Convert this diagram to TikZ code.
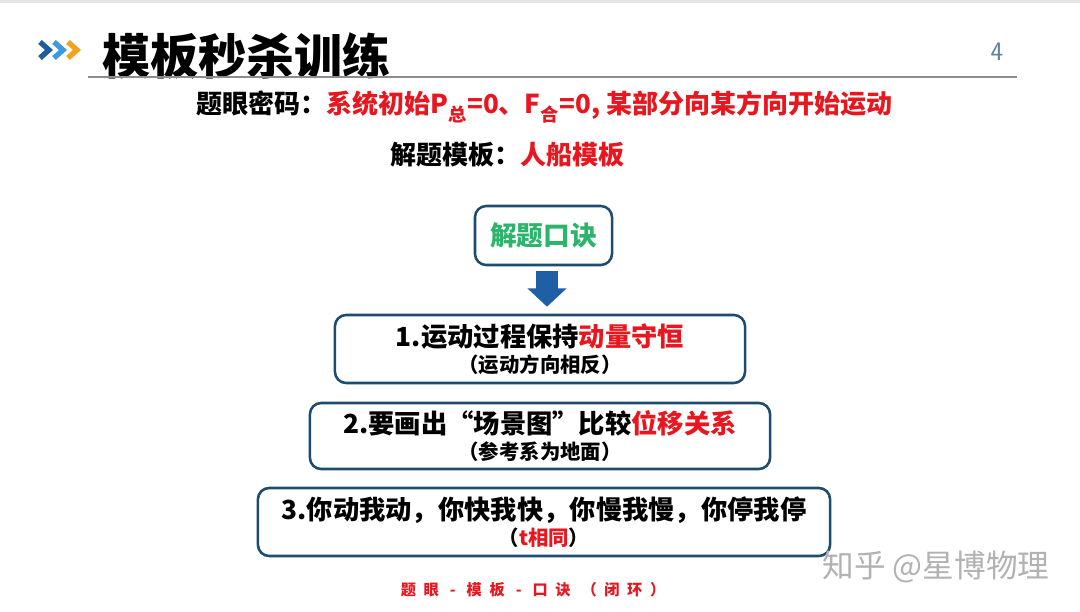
\documentclass[tikz,border=0pt]{standalone}
\usepackage{fontspec}
\setmainfont{Noto Sans CJK SC}
\usepackage{xcolor}
\usepackage{tikz}
\usetikzlibrary{arrows.meta}

\definecolor{boxblue}{HTML}{1D4C70}
\definecolor{arrowblue}{HTML}{1E5FA6}
\definecolor{keygreen}{HTML}{2DB46C}
\definecolor{keyred}{HTML}{E8161E}
\definecolor{chevdark}{HTML}{1F5C9C}
\definecolor{chevlight}{HTML}{3C9BE0}
\definecolor{chevorange}{HTML}{F2A21E}

\begin{document}
\begin{tikzpicture}[
                x=0.025cm, y=-0.025cm, % one unit = one pixel of the slide
                rulebox/.style={draw=boxblue, line width=1.8pt, rounded corners=8pt, fill=white, align=center, inner sep=0pt, font=\bfseries\fontsize{18.7}{18.5}\selectfont}, % Framed rule boxes
                chev/.style={line width=3.8pt, line cap=butt, line join=miter} % Title chevrons
                ]
                \useasboundingbox (0,0) rectangle (1080,612);
                \fill[white] (0,0) rectangle (1080,612);
                \fill[black!10] (0,0) rectangle (1080,3);

                % title bar
                \draw[chev, chevdark] (40,42) -- (49,50) -- (40,58);
                \draw[chev, chevlight] (54,42) -- (63,50) -- (54,58);
                \draw[chev, chevorange] (68,42) -- (77,50) -- (68,58);
                \node[anchor=west, inner sep=0pt, font=\bfseries\fontsize{34.2}{34}\selectfont] (title) at (102,56) {模板秒杀训练};
                \draw[black!45, line width=0.8pt] (88,77) -- (1017,77);
                \node[text=boxblue!70, font=\sffamily\fontsize{19}{19}\selectfont] (page) at (997,52) {4};

                % key lines
                \node[anchor=west, inner sep=0pt, font=\bfseries\fontsize{18.5}{20}\selectfont] (eye) at (196,107)
                    {题眼密码：\textcolor{keyred}{系统初始P\textsubscript{总}=0、F\textsubscript{合}=0, 某部分向某方向开始运动}};
                \node[anchor=west, inner sep=0pt, font=\bfseries\fontsize{18.5}{20}\selectfont] (tpl) at (390,155)
                    {解题模板：\textcolor{keyred}{人船模板}};

                % rhyme and its three rules
                \node[rulebox, minimum width=3.425cm, minimum height=1.475cm, text=keygreen, font=\bfseries\fontsize{19}{19}\selectfont] (kj) at (543.5,235.5) {解题口诀};
                \node[rulebox, minimum width=10.25cm, minimum height=1.7cm] (r1) at (540,349)
                    {1.运动过程保持\textcolor{keyred}{动量守恒}\\{\bfseries\fontsize{14.5}{15}\selectfont （运动方向相反）}};
                \node[rulebox, minimum width=11.5cm, minimum height=1.65cm] (r2) at (540,436)
                    {2.要画出“场景图”比较\textcolor{keyred}{位移关系}\\{\bfseries\fontsize{14.5}{15}\selectfont （参考系为地面）}};
                \node[rulebox, minimum width=14.3cm, minimum height=1.7cm] (r3) at (544,522)
                    {3.你动我动，你快我快，你慢我慢，你停我停\\{\bfseries\fontsize{14.5}{15}\selectfont （\textcolor{keyred}{t相同}）}};
                \draw[arrowblue, line width=15.6pt, -{Triangle[width=27pt, length=13pt]}, shorten <=3.5pt, shorten >=5pt]
                    ([xshift=2.5pt]kj.south) -- ([xshift=2.5pt]kj.south |- r1.north);

                % footer and mark
                \node[text=keyred, font=\bfseries\fontsize{10.8}{12}\selectfont\addfontfeature{LetterSpace=50}] (foot) at (533,590) {题眼 - 模板 - 口诀 （闭环）};
                \node[text=black!30, font=\fontsize{22.5}{24}\selectfont] (mark) at (936,567) {知乎 @星博物理};
            \end{tikzpicture}
\end{document}
